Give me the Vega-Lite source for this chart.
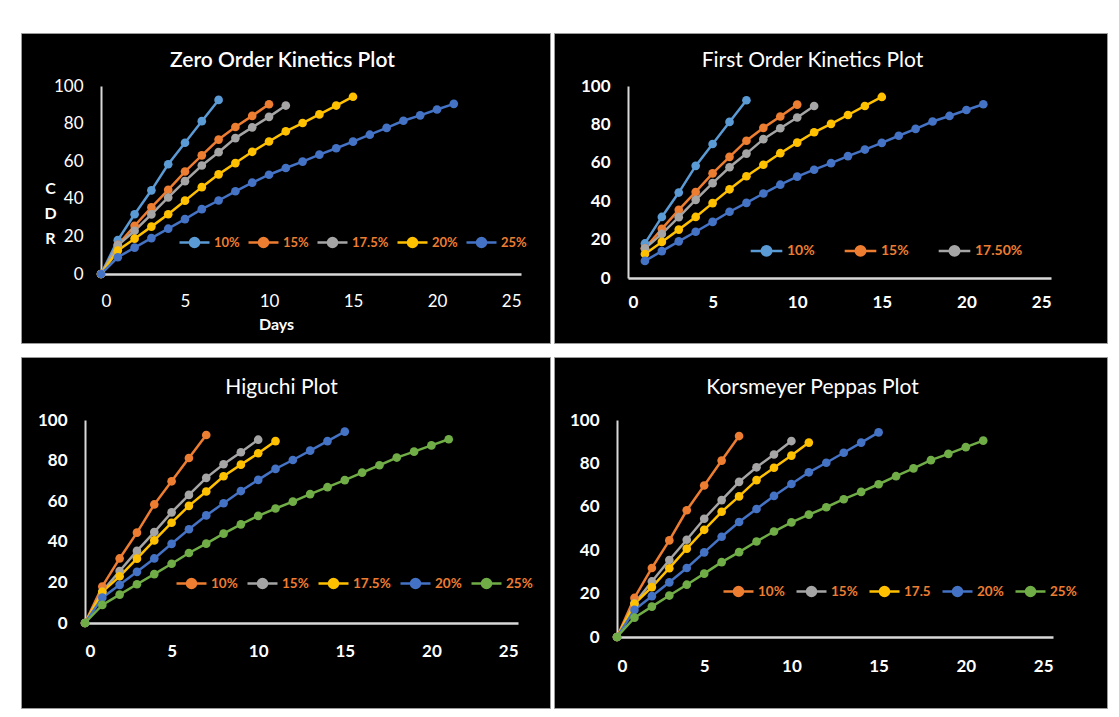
{
  "$schema": "https://vega.github.io/schema/vega-lite/v6.json",
  "background": "white",
  "padding": {"left": 20, "top": 32, "right": 0, "bottom": 0},
  "datasets": {
    "release": [
      {"conc": "10%", "day": 0, "cdr": 0}, {"conc": "10%", "day": 1, "cdr": 18}, {"conc": "10%", "day": 2, "cdr": 31.8}, {"conc": "10%", "day": 3, "cdr": 44.5}, {"conc": "10%", "day": 4, "cdr": 58.4}, {"conc": "10%", "day": 5, "cdr": 69.8}, {"conc": "10%", "day": 6, "cdr": 81.3}, {"conc": "10%", "day": 7, "cdr": 92.6},
      {"conc": "15%", "day": 0, "cdr": 0}, {"conc": "15%", "day": 1, "cdr": 15.5}, {"conc": "15%", "day": 2, "cdr": 25.6}, {"conc": "15%", "day": 3, "cdr": 35.5}, {"conc": "15%", "day": 4, "cdr": 44.8}, {"conc": "15%", "day": 5, "cdr": 54.5}, {"conc": "15%", "day": 6, "cdr": 63.1}, {"conc": "15%", "day": 7, "cdr": 71.5}, {"conc": "15%", "day": 8, "cdr": 78.2}, {"conc": "15%", "day": 9, "cdr": 84.1}, {"conc": "15%", "day": 10, "cdr": 90.3},
      {"conc": "17.5%", "day": 0, "cdr": 0}, {"conc": "17.5%", "day": 1, "cdr": 15.3}, {"conc": "17.5%", "day": 2, "cdr": 23}, {"conc": "17.5%", "day": 3, "cdr": 31.7}, {"conc": "17.5%", "day": 4, "cdr": 40.7}, {"conc": "17.5%", "day": 5, "cdr": 49.4}, {"conc": "17.5%", "day": 6, "cdr": 57.7}, {"conc": "17.5%", "day": 7, "cdr": 64.8}, {"conc": "17.5%", "day": 8, "cdr": 72.3}, {"conc": "17.5%", "day": 9, "cdr": 78}, {"conc": "17.5%", "day": 10, "cdr": 83.6}, {"conc": "17.5%", "day": 11, "cdr": 89.6},
      {"conc": "20%", "day": 0, "cdr": 0}, {"conc": "20%", "day": 1, "cdr": 12.5}, {"conc": "20%", "day": 2, "cdr": 18.8}, {"conc": "20%", "day": 3, "cdr": 25.2}, {"conc": "20%", "day": 4, "cdr": 31.8}, {"conc": "20%", "day": 5, "cdr": 39}, {"conc": "20%", "day": 6, "cdr": 46.2}, {"conc": "20%", "day": 7, "cdr": 53}, {"conc": "20%", "day": 8, "cdr": 59}, {"conc": "20%", "day": 9, "cdr": 65}, {"conc": "20%", "day": 10, "cdr": 70.5}, {"conc": "20%", "day": 11, "cdr": 75.9}, {"conc": "20%", "day": 12, "cdr": 80.3}, {"conc": "20%", "day": 13, "cdr": 84.9}, {"conc": "20%", "day": 14, "cdr": 89.6}, {"conc": "20%", "day": 15, "cdr": 94.3},
      {"conc": "25%", "day": 0, "cdr": 0}, {"conc": "25%", "day": 1, "cdr": 8.9}, {"conc": "25%", "day": 2, "cdr": 14}, {"conc": "25%", "day": 3, "cdr": 19.1}, {"conc": "25%", "day": 4, "cdr": 24.1}, {"conc": "25%", "day": 5, "cdr": 29.2}, {"conc": "25%", "day": 6, "cdr": 34.5}, {"conc": "25%", "day": 7, "cdr": 39.1}, {"conc": "25%", "day": 8, "cdr": 44}, {"conc": "25%", "day": 9, "cdr": 48.6}, {"conc": "25%", "day": 10, "cdr": 52.8}, {"conc": "25%", "day": 11, "cdr": 56.4}, {"conc": "25%", "day": 12, "cdr": 59.8}, {"conc": "25%", "day": 13, "cdr": 63.5}, {"conc": "25%", "day": 14, "cdr": 66.9}, {"conc": "25%", "day": 15, "cdr": 70.4}, {"conc": "25%", "day": 16, "cdr": 74.1}, {"conc": "25%", "day": 17, "cdr": 77.7}, {"conc": "25%", "day": 18, "cdr": 81.5}, {"conc": "25%", "day": 19, "cdr": 84.4}, {"conc": "25%", "day": 20, "cdr": 87.5}, {"conc": "25%", "day": 21, "cdr": 90.5}
    ]
  },
  "spacing": 12,
  "resolve": {"scale": {"color": "independent", "x": "independent", "y": "independent"}, "legend": {"color": "independent"}},
  "vconcat": [
    {
      "spacing": 2,
      "resolve": {"scale": {"color": "independent", "x": "independent", "y": "independent"}, "legend": {"color": "independent"}},
      "hconcat": [
        {
          "width": 529, "height": 310,
          "title": {"text": "Zero Order Kinetics Plot", "offset": -49, "baseline": "middle", "dx": -3, "fontWeight": 600},
          "data": {"name": "release"},
          "mark": {"type": "line", "point": {"filled": true, "size": 75}, "strokeWidth": 2.5},
          "encoding": {
            "x": {"field": "day", "type": "quantitative", "scale": {"domain": [0, 25], "range": [80, 500], "nice": false},
                  "axis": {"values": [0, 5, 10, 15, 20, 25], "offset": -69, "labelPadding": 19, "labelFontWeight": "normal", "domainWidth": 2.5,
                           "title": "Days", "titleX": 255, "titleY": 50, "titleBaseline": "middle"}},
            "y": {"field": "cdr", "type": "quantitative", "scale": {"domain": [0, 100], "range": [241, 53], "nice": false},
                  "axis": {"values": [0, 20, 40, 60, 80, 100], "offset": -80, "labelPadding": 18, "labelFontWeight": "normal",
                           "title": ["C", "D", "R"], "titleAngle": 0, "titleX": -51, "titleY": 155, "titleAlign": "center", "titleBaseline": "middle", "titleLineHeight": 25}},
            "color": {"field": "conc", "type": "nominal",
                      "scale": {"domain": ["10%", "15%", "17.5%", "20%", "25%"], "range": ["#5B9BD5", "#ED7D31", "#A5A5A5", "#FFC000", "#4472C4"]},
                      "legend": {"legendX": 157, "legendY": 193, "columnPadding": 3, "symbolSize": 900, "labelFontSize": 13,
                                 "encode": {"symbols": {"update": {
                                   "fill": {"signal": "['#5B9BD5','#ED7D31','#A5A5A5','#FFC000','#4472C4'][indexof(['10%','15%','17.5%','20%','25%'], datum.value)]"},
                                   "stroke": {"signal": "['#5B9BD5','#ED7D31','#A5A5A5','#FFC000','#4472C4'][indexof(['10%','15%','17.5%','20%','25%'], datum.value)]"},
                                   "opacity": {"value": 1}}}}}}
          }
        },
        {
          "width": 553, "height": 310,
          "title": {"text": "First Order Kinetics Plot", "offset": -49, "baseline": "middle", "dx": -18},
          "data": {"name": "release"},
          "transform": [{"filter": "datum.day > 0"}],
          "mark": {"type": "line", "point": {"filled": true, "size": 75}, "strokeWidth": 2.5},
          "encoding": {
            "x": {"field": "day", "type": "quantitative", "scale": {"domain": [0, 25], "range": [74, 497], "nice": false},
                  "axis": {"values": [0, 5, 10, 15, 20, 25], "offset": -65, "labelPadding": 16, "domainWidth": 2.5, "title": null}},
            "y": {"field": "cdr", "type": "quantitative", "scale": {"domain": [0, 100], "range": [245, 53], "nice": false},
                  "axis": {"values": [0, 20, 40, 60, 80, 100], "offset": -74, "labelPadding": 18, "title": null}},
            "color": {"field": "conc", "type": "nominal",
                      "scale": {"domain": ["10%", "15%", "17.5%", "20%", "25%"], "range": ["#5B9BD5", "#ED7D31", "#A5A5A5", "#FFC000", "#4472C4"]},
                      "legend": {"values": ["10%", "15%", "17.5%"], "legendX": 195, "legendY": 200, "columnPadding": 24, "symbolSize": 1000,
                                 "labelExpr": "datum.label == '17.5%' ? '17.50%' : datum.label",
                                 "encode": {"symbols": {"update": {
                                   "fill": {"signal": "['#5B9BD5','#ED7D31','#A5A5A5','#FFC000','#4472C4'][indexof(['10%','15%','17.5%','20%','25%'], datum.value)]"},
                                   "stroke": {"signal": "['#5B9BD5','#ED7D31','#A5A5A5','#FFC000','#4472C4'][indexof(['10%','15%','17.5%','20%','25%'], datum.value)]"},
                                   "opacity": {"value": 1}}}}}}
          }
        }
      ]
    },
    {
      "spacing": 2,
      "resolve": {"scale": {"color": "independent", "x": "independent", "y": "independent"}, "legend": {"color": "independent"}},
      "hconcat": [
        {
          "width": 529, "height": 351,
          "title": {"text": "Higuchi Plot", "offset": -52, "baseline": "middle", "dx": -4},
          "data": {"name": "release"},
          "mark": {"type": "line", "point": {"filled": true, "size": 75}, "strokeWidth": 2.5},
          "encoding": {
            "x": {"field": "day", "type": "quantitative", "scale": {"domain": [0, 25], "range": [64, 497], "nice": false},
                  "axis": {"values": [0, 5, 10, 15, 20, 25], "offset": -85, "labelPadding": 20, "domainWidth": 2.5, "title": null}},
            "y": {"field": "cdr", "type": "quantitative", "scale": {"domain": [0, 100], "range": [266, 63], "nice": false},
                  "axis": {"values": [0, 20, 40, 60, 80, 100], "offset": -64, "labelPadding": 18, "title": null}},
            "color": {"field": "conc", "type": "nominal",
                      "scale": {"domain": ["10%", "15%", "17.5%", "20%", "25%"], "range": ["#ED7D31", "#A5A5A5", "#FFC000", "#4472C4", "#70AD47"]},
                      "legend": {"legendX": 154, "legendY": 210, "columnPadding": 4, "symbolSize": 900, "labelFontSize": 13.5,
                                 "encode": {"symbols": {"update": {
                                   "fill": {"signal": "['#ED7D31','#A5A5A5','#FFC000','#4472C4','#70AD47'][indexof(['10%','15%','17.5%','20%','25%'], datum.value)]"},
                                   "stroke": {"signal": "['#ED7D31','#A5A5A5','#FFC000','#4472C4','#70AD47'][indexof(['10%','15%','17.5%','20%','25%'], datum.value)]"},
                                   "opacity": {"value": 1}}}}}}
          }
        },
        {
          "width": 553, "height": 351,
          "title": {"text": "Korsmeyer Peppas Plot", "offset": -52, "baseline": "middle", "dx": -18},
          "data": {"name": "release"},
          "mark": {"type": "line", "point": {"filled": true, "size": 75}, "strokeWidth": 2.5},
          "encoding": {
            "x": {"field": "day", "type": "quantitative", "scale": {"domain": [0, 25], "range": [63, 499], "nice": false},
                  "axis": {"values": [0, 5, 10, 15, 20, 25], "offset": -71, "labelPadding": 21, "domainWidth": 2.5, "title": null}},
            "y": {"field": "cdr", "type": "quantitative", "scale": {"domain": [0, 100], "range": [280, 63], "nice": false},
                  "axis": {"values": [0, 20, 40, 60, 80, 100], "offset": -63, "labelPadding": 18, "title": null}},
            "color": {"field": "conc", "type": "nominal",
                      "scale": {"domain": ["10%", "15%", "17.5%", "20%", "25%"], "range": ["#ED7D31", "#A5A5A5", "#FFC000", "#4472C4", "#70AD47"]},
                      "legend": {"legendX": 168, "legendY": 218, "columnPadding": 6, "symbolSize": 900, "labelFontSize": 13.5,
                                 "labelExpr": "datum.label == '17.5%' ? '17.5' : datum.label",
                                 "encode": {"symbols": {"update": {
                                   "fill": {"signal": "['#ED7D31','#A5A5A5','#FFC000','#4472C4','#70AD47'][indexof(['10%','15%','17.5%','20%','25%'], datum.value)]"},
                                   "stroke": {"signal": "['#ED7D31','#A5A5A5','#FFC000','#4472C4','#70AD47'][indexof(['10%','15%','17.5%','20%','25%'], datum.value)]"},
                                   "opacity": {"value": 1}}}}}}
          }
        }
      ]
    }
  ],
  "config": {
    "font": "Lato",
    "view": {"fill": "black", "stroke": "#9a9a9a", "strokeWidth": 1},
    "title": {"color": "white", "font": "Lato", "fontSize": 21, "fontWeight": "normal", "anchor": "middle", "frame": "group"},
    "axis": {"grid": false, "ticks": false, "domainColor": "#D9D9D9", "domainWidth": 2,
             "labelColor": "white", "labelFont": "Lato", "labelFontSize": 17, "labelFontWeight": "bold",
             "titleColor": "white", "titleFont": "Lato", "titleFontSize": 16, "titleFontWeight": "bold"},
    "legend": {"orient": "none", "direction": "horizontal", "title": null, "padding": 0,
               "symbolType": "M-1,0H1M-0.3,0A0.3,0.3,0,1,1,0.3,0A0.3,0.3,0,1,1,-0.3,0Z",
               "symbolStrokeWidth": 2.5, "labelColor": "#ED7D31", "labelFont": "Lato", "labelFontSize": 14,
               "labelFontWeight": "bold", "labelOffset": 3}
  }
}
